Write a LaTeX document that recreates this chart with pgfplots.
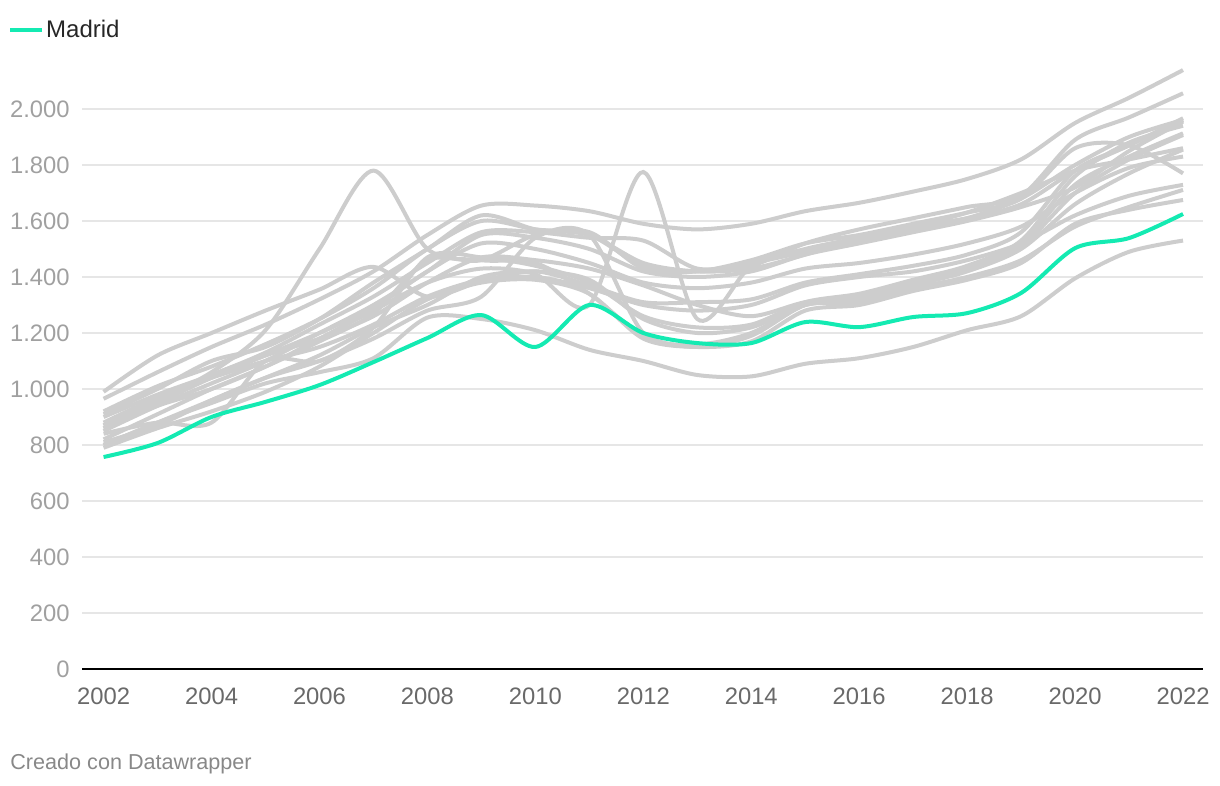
\documentclass[border=0pt]{standalone}
\usepackage{fontspec}
\setmainfont{Liberation Sans}
\usepackage{pgfplots}
\usepackage{pgfplotstable}
\pgfplotsset{compat=1.18}

\definecolor{dwgreen}{RGB}{20,234,178}
\definecolor{dwgray}{RGB}{205,205,205}
\definecolor{gridgray}{RGB}{230,230,230}
\definecolor{ylab}{RGB}{160,160,160}
\definecolor{xlab}{RGB}{105,105,105}
\definecolor{credit}{RGB}{136,136,136}

% precio medio por provincia, una columna por serie
\pgfplotstableread{
year madrid s1 s2 s3 s4 s5 s6 s7 s8 s9 s10 s11 s12 s13 s14 s15 s16 s17
2002 757 965 920 990 860 900 850 870 870 910 800 860 820 880 810 790 840 800
2003 807 1060 1010 1120 940 980 940 960 960 1000 880 950 910 970 870 860 880 880
2004 900 1150 1080 1200 1000 1050 1020 1050 1060 1100 960 1040 1000 1040 960 920 880 950
2005 954 1230 1160 1280 1080 1130 1100 1120 1210 1150 1040 1120 1080 1100 1040 990 1100 1020
2006 1014 1320 1250 1355 1180 1230 1200 1180 1500 1250 1120 1200 1170 1150 1100 1080 1100 1060
2007 1096 1420 1360 1436 1280 1330 1300 1260 1780 1380 1220 1290 1270 1230 1180 1200 1220 1110
2008 1182 1550 1500 1330 1380 1450 1420 1380 1500 1500 1300 1420 1460 1330 1280 1320 1470 1255
2009 1264 1655 1600 1385 1430 1560 1550 1470 1460 1620 1400 1520 1460 1390 1330 1380 1470 1250
2010 1150 1655 1570 1420 1410 1560 1540 1460 1450 1570 1420 1500 1550 1400 1540 1390 1440 1210
2011 1300 1635 1550 1370 1300 1540 1500 1430 1340 1550 1390 1450 1560 1360 1550 1340 1380 1140
2012 1200 1590 1440 1310 1775 1530 1420 1370 1190 1450 1250 1380 1430 1300 1200 1180 1260 1100
2013 1164 1570 1420 1310 1250 1430 1400 1300 1150 1420 1200 1360 1420 1280 1160 1150 1220 1050
2014 1164 1590 1440 1320 1440 1450 1420 1260 1190 1430 1220 1380 1460 1300 1200 1170 1230 1045
2015 1239 1635 1520 1380 1500 1490 1480 1310 1300 1480 1300 1430 1520 1370 1300 1280 1310 1090
2016 1221 1665 1570 1410 1540 1530 1520 1330 1320 1540 1320 1450 1550 1400 1310 1300 1340 1110
2017 1257 1705 1610 1440 1580 1570 1560 1380 1380 1580 1370 1480 1590 1420 1360 1350 1390 1150
2018 1271 1750 1650 1480 1610 1610 1600 1430 1430 1630 1420 1520 1630 1460 1400 1390 1440 1210
2019 1343 1820 1690 1560 1660 1680 1650 1520 1510 1700 1500 1580 1680 1520 1460 1450 1530 1260
2020 1503 1950 1890 1780 1780 1800 1720 1730 1700 1780 1660 1700 1860 1620 1580 1590 1760 1395
2021 1539 2040 1970 1870 1870 1900 1850 1830 1820 1820 1770 1790 1870 1690 1650 1640 1880 1490
2022 1625 2139 2056 1967 1960 1961 1955 1913 1907 1860 1855 1830 1770 1729 1711 1675 1940 1530
}\prices

\begin{document}
\begin{tikzpicture}
\path[use as bounding box] (0pt,0pt) rectangle (610pt,393pt);
\begin{axis}[
  at={(41pt,58.5pt)}, anchor=south west,
  scale only axis, width=560.5pt, height=308pt,
  xmin=2001.6, xmax=2022.37, ymin=0, ymax=2200,
  clip=false,
  axis line style={draw=none},
  tick style={draw=none}, major tick length=0pt,
  ytick={200,400,...,2000},
  extra y ticks={0},
  extra y tick style={grid style={black, line width=1pt}},
  ymajorgrids, grid style={gridgray, line width=1pt},
  /pgf/number format/1000 sep={.},
  /pgf/number format/assume math mode=true,
  xtick={2002,2004,...,2022},
  xticklabels={2002,2004,2006,2008,2010,2012,2014,2016,2018,2020,2022},
  tick label style={font=\fontsize{11.9}{13}\selectfont},
  yticklabel style={anchor=east, inner sep=0pt, xshift=-6pt, text=ylab},
  xticklabel style={anchor=north, inner sep=0pt, yshift=-9pt, text=xlab},
  legend style={at={(axis description cs:-0.0662,1.0373)}, anchor=west,
    draw=none, fill=none, inner sep=0pt,
    font=\fontsize{12}{13}\selectfont, text=black!85,
    nodes={inner sep=1pt},
    /tikz/every even column/.append style={column sep=2pt}},
  legend image code/.code={\draw[#1, line width=2pt] (0pt,0pt) -- (16pt,0pt);},
  every axis plot/.append style={smooth, tension=0.5, line width=2pt},
]
\foreach \s in {s1,s2,s3,s4,s5,s6,s7,s8,s9,s10,s11,s12,s13,s14,s15,s16,s17}{
  \addplot[dwgray, forget plot] table[x=year, y=\s] {\prices};
}
\addplot[dwgreen] table[x=year, y=madrid] {\prices};
\addlegendentry{Madrid}
\end{axis}
\node[anchor=base west, inner sep=0pt, text=credit, font=\fontsize{10.8}{12}\selectfont]
  at (5pt,8pt) {Creado con Datawrapper};
\end{tikzpicture}
\end{document}
